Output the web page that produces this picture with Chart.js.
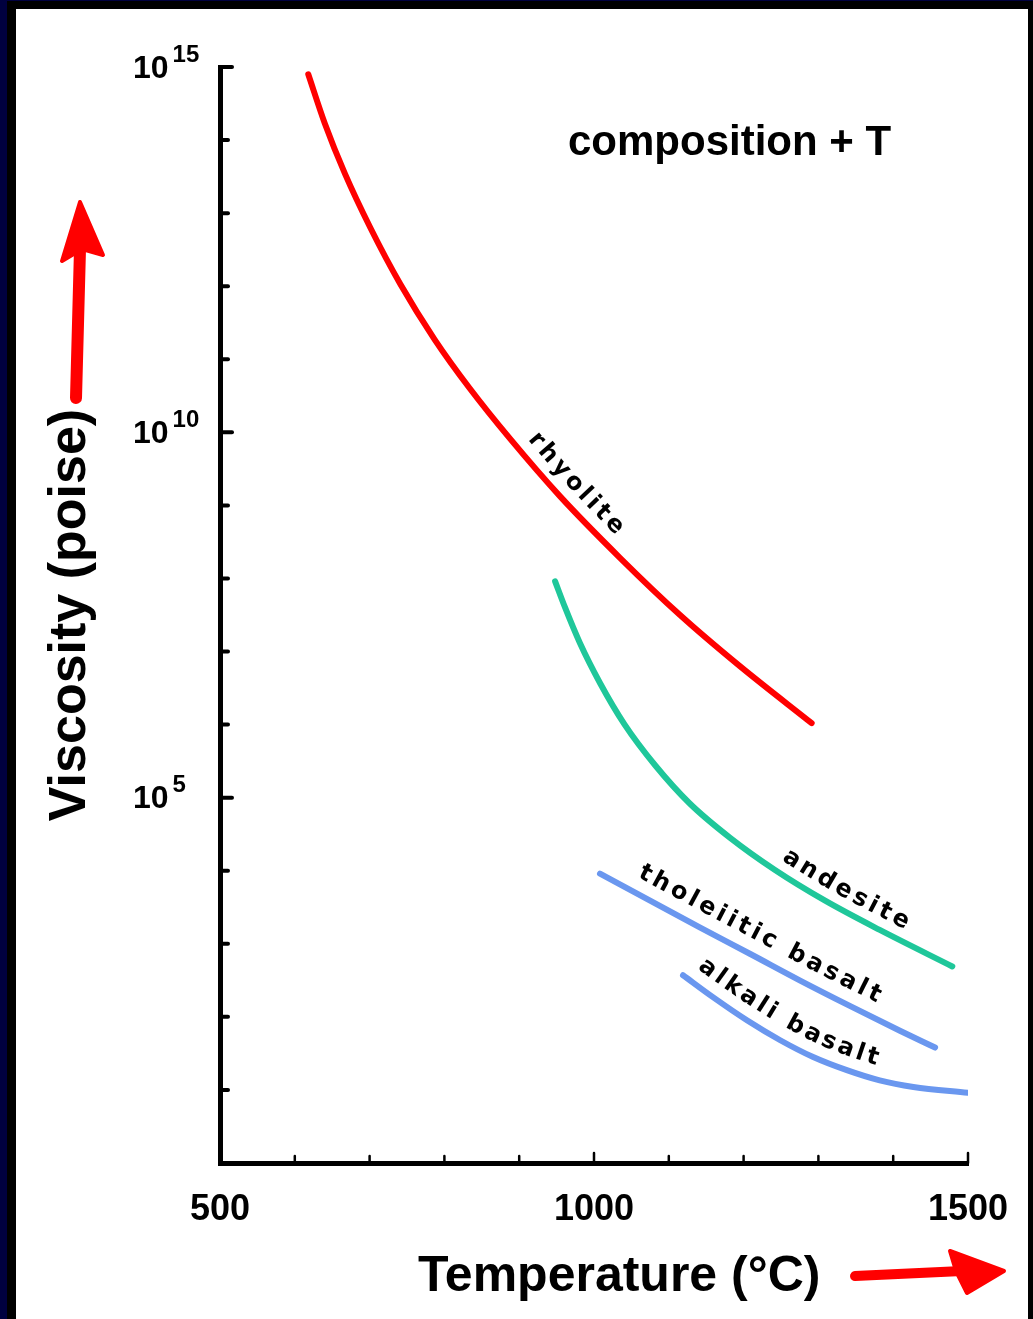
<!DOCTYPE html>
<html lang="en">
  <head>
    <meta charset="utf-8" />
    <title>Viscosity vs temperature</title>
    <style>
      * {
        margin: 0;
        padding: 0;
      }
      body {
        width: 1033px;
        height: 1319px;
        background: #00003f;
        position: relative;
        overflow: hidden;
      }
      .frame {
        position: absolute;
        left: 7px;
        top: 1px;
        width: 1026px;
        height: 1318px;
        background: #000;
      }
      .sheet {
        position: absolute;
        left: 16px;
        top: 9px;
        width: 1012px;
        height: 1310px;
        background: #fff;
      }
    </style>
  </head>
  <body>
    <div class="frame"></div>
    <div class="sheet">
      <canvas id="myChart" width="1012" height="1310"></canvas>
    </div>
    <script src="https://cdn.jsdelivr.net/npm/chart.js/dist/chart.umd.min.js"></script>
    <script>
      // temperatures in degrees C, viscosity as log10(poise)
      const rhyoliteT = [618, 640, 667, 701, 741, 787, 834, 888, 955, 1035, 1115, 1195, 1291];
      const rhyoliteLog = [14.9, 14.23, 13.54, 12.8, 12.03, 11.27, 10.6, 9.91, 9.12, 8.28, 7.5, 6.8, 6.02];

      const andesiteT = [948, 961, 981, 1008, 1041, 1082, 1128, 1182, 1242, 1309, 1382, 1479];
      const andesiteLog = [7.96, 7.61, 7.12, 6.57, 6.0, 5.44, 4.92, 4.45, 4.01, 3.59, 3.19, 2.69];

      const tholeiiticT = [1008, 1075, 1142, 1209, 1275, 1342, 1409, 1456];
      const tholeiiticLog = [3.96, 3.59, 3.22, 2.86, 2.5, 2.15, 1.81, 1.58];

      const alkaliT = [1119, 1159, 1205, 1249, 1293, 1338, 1382, 1427, 1500];
      const alkaliLog = [2.57, 2.27, 1.95, 1.68, 1.45, 1.27, 1.13, 1.04, 0.96];

      const seriesNames = ["rhyolite", "andesite", "tholeiitic basalt", "alkali basalt"];
      const xLabelValues = [500, 1000, 1500];
      const yLabelExponents = [5, 10, 15];

      const toPoints = (ts, ls) => ts.map((t, i) => ({ x: t, y: ls[i] }));

      // where each curve label starts (temperature) and how far it sits off the line
      const curveLabels = [
        { ds: 0, startT: 896, offset: 13 },
        { ds: 1, startT: 1242, offset: 12 },
        { ds: 2, startT: 1045, offset: 15 },
        { ds: 3, startT: 1126, offset: 14 },
      ];

      function samplePath(meta) {
        const pts = meta.data;
        const out = [];
        for (let i = 0; i < pts.length - 1; i++) {
          const a = pts[i], b = pts[i + 1];
          const c1x = a.cp2x ?? a.x, c1y = a.cp2y ?? a.y;
          const c2x = b.cp1x ?? b.x, c2y = b.cp1y ?? b.y;
          for (let k = 0; k < 20; k++) {
            const t = k / 20, u = 1 - t;
            out.push({
              x: u * u * u * a.x + 3 * u * u * t * c1x + 3 * u * t * t * c2x + t * t * t * b.x,
              y: u * u * u * a.y + 3 * u * u * t * c1y + 3 * u * t * t * c2y + t * t * t * b.y,
            });
          }
        }
        const last = pts[pts.length - 1];
        out.push({ x: last.x, y: last.y });
        let s = 0;
        out[0].s = 0;
        for (let i = 1; i < out.length; i++) {
          s += Math.hypot(out[i].x - out[i - 1].x, out[i].y - out[i - 1].y);
          out[i].s = s;
        }
        return out;
      }

      function pointAt(path, s) {
        const end = path[path.length - 1];
        if (s >= end.s) return { x: end.x, y: end.y };
        for (let i = 1; i < path.length; i++) {
          if (path[i].s >= s) {
            const a = path[i - 1], b = path[i];
            const f = (s - a.s) / (b.s - a.s || 1);
            return { x: a.x + (b.x - a.x) * f, y: a.y + (b.y - a.y) * f };
          }
        }
        return { x: end.x, y: end.y };
      }

      function textOnPath(ctx, path, text, s0, offset, spacing) {
        let s = s0;
        for (const ch of text) {
          const w = ctx.measureText(ch).width;
          const mid = s + w / 2;
          const p = pointAt(path, mid);
          const p1 = pointAt(path, Math.max(0, mid - 10));
          const p2 = pointAt(path, mid + 10);
          let dx = p2.x - p1.x, dy = p2.y - p1.y;
          const len = Math.hypot(dx, dy) || 1;
          dx /= len;
          dy /= len;
          ctx.save();
          ctx.translate(p.x + dy * offset, p.y - dx * offset);
          ctx.rotate(Math.atan2(dy, dx));
          ctx.fillText(ch, 0, 0);
          ctx.restore();
          s += w + spacing;
        }
      }

      const decorPlugin = {
        id: "decor",
        afterDraw(chart) {
          const ctx = chart.ctx;
          const xs = chart.scales.x;
          const ys = chart.scales.y;
          const area = chart.chartArea;
          ctx.save();

          // inward tick marks
          ctx.strokeStyle = "#000";
          ctx.lineCap = "round";
          ys.ticks.forEach((t) => {
            if (t.value === 0) return;
            const y = ys.getPixelForValue(t.value);
            const big = yLabelExponents.includes(t.value);
            ctx.lineWidth = 4;
            ctx.beginPath();
            ctx.moveTo(area.left, y);
            ctx.lineTo(area.left + (big ? 12 : 8), y);
            ctx.stroke();
          });
          xs.ticks.forEach((t) => {
            if (t.value === 500) return;
            const x = xs.getPixelForValue(t.value);
            const big = t.value === 1000 || t.value === 1500;
            ctx.lineWidth = 2.5;
            ctx.beginPath();
            ctx.moveTo(x, area.bottom);
            ctx.lineTo(x, area.bottom - (big ? 10 : 7));
            ctx.stroke();
          });

          // y tick labels 10^n
          ctx.fillStyle = "#000";
          ctx.textBaseline = "middle";
          ctx.textAlign = "left";
          yLabelExponents.forEach((e) => {
            const y = ys.getPixelForValue(e);
            const bx = area.left - 87;
            ctx.font = 'bold 32px "Liberation Sans"';
            ctx.fillText("10", bx, y + 2);
            const bw = ctx.measureText("10").width;
            ctx.font = 'bold 24px "Liberation Sans"';
            ctx.fillText(String(e), bx + bw + 4, y - 12);
          });

          // labels written along the curves
          ctx.font = 'bold 24px "DejaVu Sans"';
          ctx.textAlign = "center";
          ctx.textBaseline = "alphabetic";
          curveLabels.forEach((lab) => {
            const path = samplePath(chart.getDatasetMeta(lab.ds));
            const sx = xs.getPixelForValue(lab.startT);
            let s0 = 0;
            for (const p of path) {
              if (p.x >= sx) {
                s0 = p.s;
                break;
              }
            }
            textOnPath(ctx, path, seriesNames[lab.ds], s0, lab.offset, 3.7);
          });

          // annotation
          ctx.textAlign = "left";
          ctx.font = 'bold 42px "Liberation Sans"';
          ctx.fillText("composition + T", 552, 146);

          // x axis title
          ctx.font = 'bold 50px "Liberation Sans"';
          ctx.fillText("Temperature (\u00B0C)", 402, 1282);

          // red arrows
          ctx.strokeStyle = "#ff0000";
          ctx.fillStyle = "#ff0000";
          ctx.lineJoin = "round";
          ctx.lineWidth = 12;
          ctx.beginPath();
          ctx.moveTo(60, 389);
          ctx.lineTo(64, 240);
          ctx.stroke();
          ctx.lineWidth = 4;
          ctx.beginPath();
          ctx.moveTo(64, 193);
          ctx.lineTo(87, 246);
          ctx.lineTo(66, 240);
          ctx.lineTo(46, 252);
          ctx.closePath();
          ctx.fill();
          ctx.stroke();

          ctx.lineWidth = 10;
          ctx.beginPath();
          ctx.moveTo(839, 1267);
          ctx.lineTo(946, 1262);
          ctx.stroke();
          ctx.lineWidth = 4;
          ctx.beginPath();
          ctx.moveTo(988, 1262);
          ctx.lineTo(951, 1284);
          ctx.lineTo(940, 1262);
          ctx.lineTo(934, 1242);
          ctx.closePath();
          ctx.fill();
          ctx.stroke();

          ctx.restore();
        },
      };

      const lineStyle = (color) => ({
        borderColor: color,
        backgroundColor: color,
        borderWidth: 6,
        borderCapStyle: "round",
        pointRadius: 0,
        cubicInterpolationMode: "monotone",
        fill: false,
      });

      const data = {
        datasets: [
          { label: seriesNames[0], data: toPoints(rhyoliteT, rhyoliteLog), ...lineStyle("#ff0000") },
          { label: seriesNames[1], data: toPoints(andesiteT, andesiteLog), ...lineStyle("#1fc79a") },
          { label: seriesNames[2], data: toPoints(tholeiiticT, tholeiiticLog), ...lineStyle("#6a97ef") },
          { label: seriesNames[3], data: toPoints(alkaliT, alkaliLog), ...lineStyle("#6a97ef") },
        ],
      };

      const config = {
        type: "line",
        data,
        options: {
          responsive: false,
          animation: false,
          layout: { padding: { left: 0, top: 58, right: 60, bottom: 0 } },
          scales: {
            x: {
              type: "linear",
              min: 500,
              max: 1500,
              afterFit(scale) {
                scale.height = 156;
                scale.paddingLeft = 0;
                scale.paddingRight = 0;
              },
              grid: { display: false, drawTicks: false },
              border: { display: true, color: "#000", width: 5 },
              ticks: {
                stepSize: 100,
                autoSkip: false,
                maxRotation: 0,
                padding: 25,
                color: "#000",
                font: { family: "Liberation Sans", size: 36, weight: "bold" },
                callback: (v) => (xLabelValues.includes(v) ? String(v) : ""),
              },
            },
            y: {
              type: "linear",
              min: 0,
              max: 15,
              afterFit(scale) {
                scale.width = 204;
                scale.paddingTop = 0;
                scale.paddingBottom = 0;
              },
              grid: { display: false, drawTicks: false },
              border: { display: true, color: "#000", width: 5 },
              ticks: { stepSize: 1, display: false },
              title: {
                display: true,
                text: "Viscosity (poise)",
                color: "#000",
                padding: { top: 23, bottom: 0 },
                font: { family: "Liberation Sans", size: 52, weight: "bold" },
              },
            },
          },
          plugins: {
            legend: { display: false },
            tooltip: { enabled: false },
          },
        },
        plugins: [decorPlugin],
      };

      const myChart = new Chart(document.getElementById("myChart"), config);
    </script>
  </body>
</html>
